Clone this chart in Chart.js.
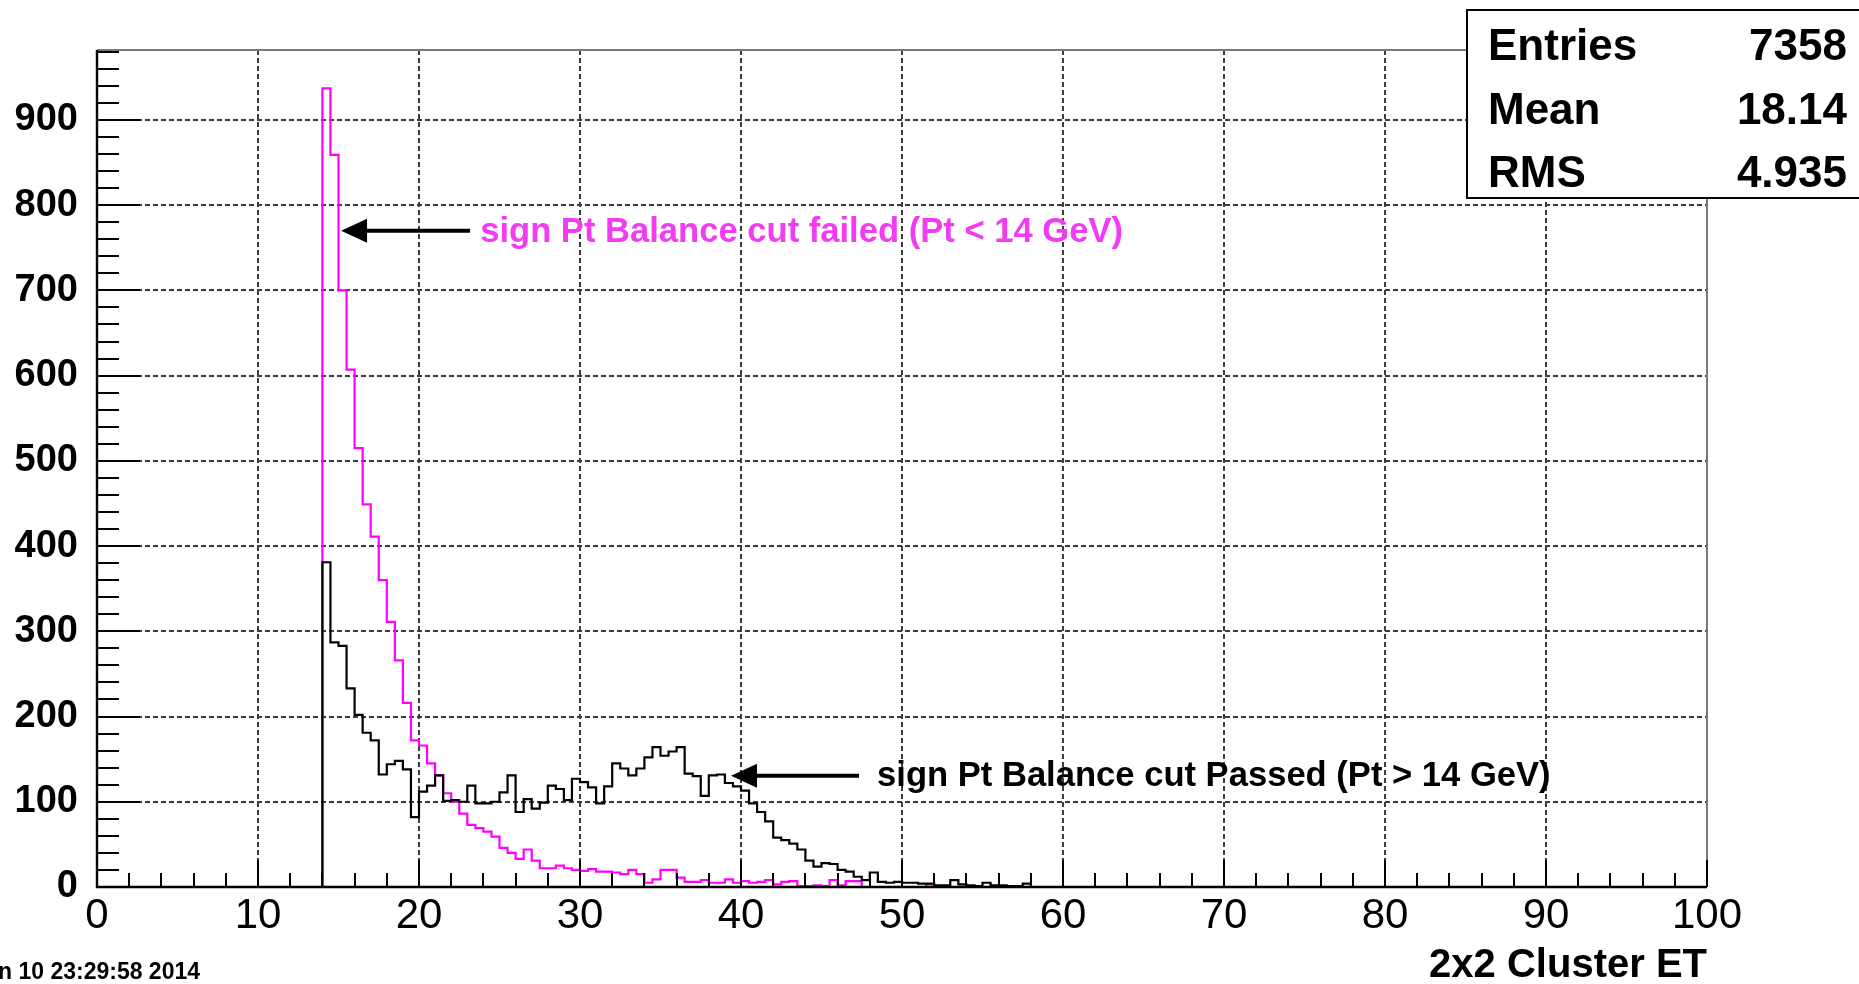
<!DOCTYPE html>
<html>
<head>
<meta charset="utf-8">
<script src="https://cdn.jsdelivr.net/npm/chart.js@4.4.1/dist/chart.umd.min.js"></script>
<style>
  html, body { margin: 0; padding: 0; background: #fff; overflow: hidden; }
  canvas { display: block; }
</style>
</head>
<body>
<canvas id="c" width="1859" height="984"></canvas>
<script>
// Histogram binning (GeV)
const binStart = 14;
const binWidth = 0.5;

// Counts per 0.5 GeV bin, starting at 14 GeV
const failedCounts = [
  937, 859, 700, 607, 515, 449, 411, 360, 311, 266, 216, 172,
  166, 145, 131, 110, 100, 86, 73, 69, 65, 59,
  46, 40, 33, 44, 31, 22, 22, 25, 22, 20,
  19, 21, 18, 18, 17, 15, 20, 15, 5, 9,
  20, 20, 11, 6, 6, 8, 5, 5, 9, 5,
  7, 5, 6, 8, 3, 6, 7, 1, 1, 2,
  1, 8, 2, 7, 7, 0, 0, 0, 0, 0,
  0, 0, 0, 3, 0
];
const passedCounts = [
  381, 287, 283, 233, 202, 181, 172, 132, 144, 148, 138, 82,
  112, 119, 131, 101, 102, 100, 119, 98, 98, 100,
  111, 131, 88, 103, 92, 99, 119, 115, 102, 127,
  123, 117, 98, 118, 145, 139, 131, 139, 152, 164,
  154, 159, 164, 133, 130, 107, 131, 132, 122, 118,
  113, 98, 88, 77, 58, 55, 51, 44, 31, 24,
  28, 27, 20, 18, 12, 8, 17, 6, 5, 6,
  5, 5, 4, 4, 2, 2, 8, 3, 2, 1,
  5, 2, 2, 1, 1, 4, 0
];

// Axis ranges and divisions
const xRange = [0, 100];
const yRange = [0, 982];
const xMajorStep = 10, xMinorStep = 2;
const yMajorStep = 100, yMinorStep = 20;

// Texts
const xAxisTitle = '2x2 Cluster ET';
const statLabels = ['Entries', 'Mean', 'RMS'];
const statValues = ['7358', '18.14', '4.935'];
const failedNote = 'sign Pt Balance cut failed (Pt < 14 GeV)';
const passedNote = 'sign Pt Balance cut Passed (Pt > 14 GeV)';
const dateStamp = 'n 10 23:29:58 2014';

// Annotation anchors in data units: [arrow tip x, arrow tail x, text x, y]
const failedArrow = [15.16, 23.17, 23.8, 770];
const passedArrow = [39.38, 47.33, 48.45, 130.5];

const FONT = "'Liberation Sans', Arial, Helvetica, sans-serif";
const MAGENTA = '#ff00ff';
const MAGENTA_TEXT = '#f23cf2';

// Histogram outline: rise from zero at the first edge, one step per bin, drop at the end
function outline(counts) {
  const pts = [{ x: binStart, y: 0 }];
  counts.forEach((c, i) => pts.push({ x: binStart + i * binWidth, y: c }));
  pts.push({ x: binStart + counts.length * binWidth, y: 0 });
  return pts;
}

function arrow(ctx, xs, ys, spec, color) {
  const tip = xs.getPixelForValue(spec[0]);
  const tail = xs.getPixelForValue(spec[1]);
  const y = ys.getPixelForValue(spec[3]);
  const headLen = 26, headHalf = 12;
  ctx.save();
  ctx.strokeStyle = color;
  ctx.fillStyle = color;
  ctx.lineWidth = 4;
  ctx.beginPath();
  ctx.moveTo(tail, y);
  ctx.lineTo(tip + headLen - 2, y);
  ctx.stroke();
  ctx.beginPath();
  ctx.moveTo(tip, y);
  ctx.lineTo(tip + headLen, y - headHalf);
  ctx.lineTo(tip + headLen, y + headHalf);
  ctx.closePath();
  ctx.fill();
  ctx.restore();
}

const frameAndNotes = {
  id: 'frameAndNotes',
  afterDraw(chart) {
    const ctx = chart.ctx;
    const ca = chart.chartArea;
    const xs = chart.scales.x, ys = chart.scales.y;

    // Frame: grey top/right, black axes
    ctx.save();
    ctx.strokeStyle = '#7a7a7a';
    ctx.lineWidth = 2;
    ctx.beginPath();
    ctx.moveTo(ca.left, ca.top);
    ctx.lineTo(ca.right, ca.top);
    ctx.lineTo(ca.right, ca.bottom);
    ctx.stroke();
    ctx.strokeStyle = '#000';
    ctx.lineWidth = 2.4;
    ctx.beginPath();
    ctx.moveTo(ca.left, ca.top);
    ctx.lineTo(ca.left, ca.bottom);
    ctx.lineTo(ca.right, ca.bottom);
    ctx.stroke();

    // Inward tick marks
    ctx.lineWidth = 2;
    ctx.beginPath();
    for (let v = xRange[0]; v <= xRange[1] + 1e-9; v += xMinorStep) {
      const px = Math.round(xs.getPixelForValue(v));
      const len = (Math.round(v) % xMajorStep === 0) ? 27 : 14;
      ctx.moveTo(px, ca.bottom);
      ctx.lineTo(px, ca.bottom - len);
    }
    for (let v = yRange[0]; v <= yRange[1] + 1e-9; v += yMinorStep) {
      const py = Math.round(ys.getPixelForValue(v));
      const len = (Math.round(v) % yMajorStep === 0) ? 43 : 22;
      ctx.moveTo(ca.left, py);
      ctx.lineTo(ca.left + len, py);
    }
    ctx.stroke();
    ctx.restore();

    // Annotations
    arrow(ctx, xs, ys, failedArrow, '#000');
    arrow(ctx, xs, ys, passedArrow, '#000');
    ctx.save();
    ctx.font = 'bold 34.6px ' + FONT;
    ctx.textBaseline = 'alphabetic';
    ctx.textAlign = 'left';
    ctx.fillStyle = MAGENTA_TEXT;
    ctx.fillText(failedNote, xs.getPixelForValue(failedArrow[2]), ys.getPixelForValue(failedArrow[3]) + 11);
    ctx.fillStyle = '#000';
    ctx.fillText(passedNote, xs.getPixelForValue(passedArrow[2]), ys.getPixelForValue(passedArrow[3]) + 10);
    ctx.restore();

    // Statistics box
    ctx.save();
    const bx = 1467, by = 10, bw = 420, bh = 188;
    ctx.fillStyle = '#fff';
    ctx.fillRect(bx, by, bw, bh);
    ctx.strokeStyle = '#000';
    ctx.lineWidth = 2;
    ctx.strokeRect(bx, by, bw, bh);
    ctx.font = 'bold 44px ' + FONT;
    ctx.fillStyle = '#000';
    ctx.textBaseline = 'alphabetic';
    statLabels.forEach((lab, i) => {
      const base = 60 + i * 63.5;
      ctx.textAlign = 'left';
      ctx.fillText(lab, 1488, base);
      ctx.textAlign = 'right';
      ctx.fillText(statValues[i], 1847, base);
    });
    ctx.restore();

    // Time stamp
    ctx.save();
    ctx.font = 'bold 23px ' + FONT;
    ctx.fillStyle = '#000';
    ctx.textAlign = 'left';
    ctx.textBaseline = 'alphabetic';
    ctx.fillText(dateStamp, -2, 979);
    ctx.restore();
  }
};

new Chart(document.getElementById('c'), {
  type: 'line',
  data: {
    datasets: [
      {
        label: 'passed',
        data: outline(passedCounts),
        borderColor: '#000',
        borderWidth: 2.2,
        stepped: true,
        pointRadius: 0,
        fill: false,
        order: 0
      },
      {
        label: 'failed',
        data: outline(failedCounts),
        borderColor: MAGENTA,
        borderWidth: 2.2,
        stepped: true,
        pointRadius: 0,
        fill: false,
        order: 1
      }
    ]
  },
  options: {
    responsive: false,
    animation: false,
    events: [],
    parsing: false,
    layout: { padding: { top: 50, right: 152, left: 0, bottom: 0 } },
    plugins: {
      legend: { display: false },
      tooltip: { enabled: false },
      title: { display: false }
    },
    scales: {
      x: {
        type: 'linear',
        min: xRange[0],
        max: xRange[1],
        afterFit(s) { s.height = 97; },
        ticks: {
          stepSize: xMajorStep,
          color: '#000',
          font: { family: FONT, size: 42 },
          padding: 4,
          maxRotation: 0,
          autoSkip: false
        },
        grid: { color: '#3c3c3c', lineWidth: 2, drawTicks: false },
        border: { display: false, dash: [5, 3] }
      },
      y: {
        type: 'linear',
        min: yRange[0],
        max: yRange[1],
        afterFit(s) { s.width = 97; },
        ticks: {
          stepSize: yMajorStep,
          includeBounds: false,
          color: '#000',
          font: { family: FONT, size: 38, weight: 'bold' },
          padding: 19
        },
        grid: { color: '#3c3c3c', lineWidth: 2, drawTicks: false },
        border: { display: false, dash: [5, 3] }
      }
    }
  },
  plugins: [frameAndNotes, {
    id: 'axisTitle',
    afterDraw(chart) {
      // x-axis title, right-aligned to the plot frame
      const ctx = chart.ctx;
      ctx.save();
      ctx.font = 'bold 40px ' + FONT;
      ctx.fillStyle = '#000';
      ctx.textAlign = 'right';
      ctx.textBaseline = 'alphabetic';
      ctx.fillText(xAxisTitle, chart.chartArea.right, 977);
      ctx.restore();
    }
  }]
});
</script>
</body>
</html>
